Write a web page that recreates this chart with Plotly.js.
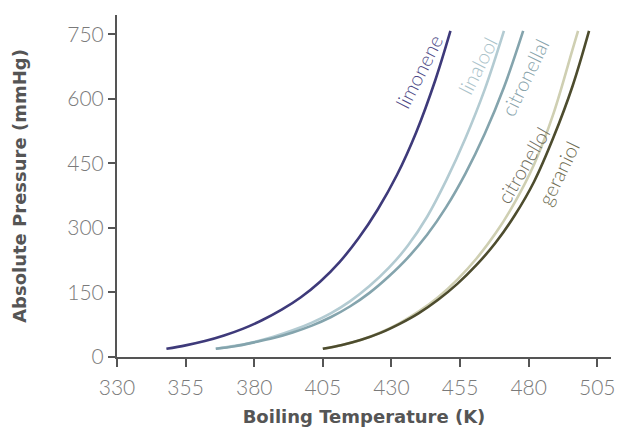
<!DOCTYPE html>
<html>
<head>
<meta charset="utf-8">
<script src="https://cdn.plot.ly/plotly-3.0.1.min.js"></script>
<style>html,body{margin:0;padding:0;background:#fff}#chart{width:617px;height:432px}</style>
</head>
<body>
<div id="chart"></div>
<script>
// Boiling temperature (K) vs absolute pressure (mmHg)
const limoneneT = [348, 355, 362, 369, 376, 383, 390, 397, 404, 411, 418, 425, 432, 439, 446, 451.5];
const limoneneP = [19, 27, 37, 50, 66, 86, 110, 139, 175, 220, 276, 343, 423, 522, 644, 758];

const linaloolT = [366, 373, 380, 387, 394, 401, 408, 415, 422, 429, 436, 443, 450, 457, 464, 471];
const linaloolP = [19, 26, 35, 47, 62, 80, 102, 130, 165, 207, 259, 326, 411, 509, 622, 758];

const citronellalT = [366, 373, 380, 387, 394, 401, 408, 415, 422, 429, 436, 443, 450, 457, 464, 471, 478];
const citronellalP = [19, 25, 34, 44, 57, 73, 93, 118, 149, 187, 231, 284, 349, 427, 519, 627, 758];

const citronellolT = [405, 412, 419, 426, 433, 440, 447, 454, 461, 468, 475, 482, 489, 496, 498];
const citronellolP = [19, 28, 40, 57, 79, 106, 139, 180, 229, 288, 360, 448, 565, 715, 758];

const geraniolT = [405, 412, 419, 426, 433, 440, 447, 454, 461, 468, 475, 482, 489, 496, 502];
const geraniolP = [19, 28, 40, 56, 77, 102, 133, 170, 214, 266, 330, 408, 510, 630, 758];

const xTicks = [330, 355, 380, 405, 430, 455, 480, 505];
const yTicks = [0, 150, 300, 450, 600, 750];

const names = ['limonene', 'linalool', 'citronellal', 'citronellol', 'geraniol'];
const lineColors = ['#3e3a7a', '#b3cbd2', '#84a4ad', '#cfcfb2', '#4d4c2e'];
const labelColors = ['#4b4785', '#a9c2c9', '#86a2aa', '#6e6c5c', '#6d6b4f'];
const Ts = [limoneneT, linaloolT, citronellalT, citronellolT, geraniolT];
const Ps = [limoneneP, linaloolP, citronellalP, citronellolP, geraniolP];

const traces = names.map((n, i) => ({
  type: 'scatter', mode: 'lines', name: n,
  x: Ts[i], y: Ps[i],
  line: {color: lineColors[i], width: 2.6, shape: 'spline', smoothing: 1},
  hoverinfo: 'x+y+name'
}));

const labelPos = [
  {x: 440.0, y: 665, a: -63},
  {x: 461.2, y: 677, a: -63},
  {x: 478.6, y: 651, a: -64},
  {x: 478.0, y: 446, a: -60},
  {x: 490.8, y: 428, a: -64}
];
const annotations = names.map((n, i) => ({
  x: labelPos[i].x, y: labelPos[i].y, xref: 'x', yref: 'y',
  text: n, showarrow: false, textangle: labelPos[i].a,
  font: {family: 'Lato, sans-serif', size: 20, weight: 300, color: labelColors[i]}
}));

const tickFont = {family: 'Lato, sans-serif', size: 21, weight: 300, color: '#7a7a7a'};
const titleFont = {family: 'DejaVu Sans, sans-serif', size: 18, color: '#555555', weight: 'bold'};

const layout = {
  width: 617, height: 432,
  margin: {l: 117, r: 6, t: 15, b: 75},
  paper_bgcolor: '#ffffff', plot_bgcolor: '#ffffff',
  showlegend: false,
  xaxis: {
    range: [330, 510], tickvals: xTicks, ticktext: xTicks.map(String),
    showgrid: false, zeroline: false, showline: true, linecolor: '#555555', linewidth: 2,
    ticks: 'outside', ticklen: 8, tickwidth: 2, tickcolor: '#555555',
    tickfont: tickFont, ticklabelstandoff: 3,
    title: {text: '<b>Boiling Temperature (K)</b>', font: titleFont, standoff: 12}
  },
  yaxis: {
    range: [0, 795], tickvals: yTicks, ticktext: yTicks.map(String),
    showgrid: false, zeroline: false, showline: true, linecolor: '#555555', linewidth: 2,
    ticks: 'outside', ticklen: 7, tickwidth: 2, tickcolor: '#555555',
    tickfont: tickFont,
    title: {text: '<b>Absolute Pressure (mmHg)</b>', font: titleFont, standoff: 36}
  },
  annotations: annotations
};

Plotly.newPlot('chart', traces, layout, {displayModeBar: false, staticPlot: true});
</script>
</body>
</html>
